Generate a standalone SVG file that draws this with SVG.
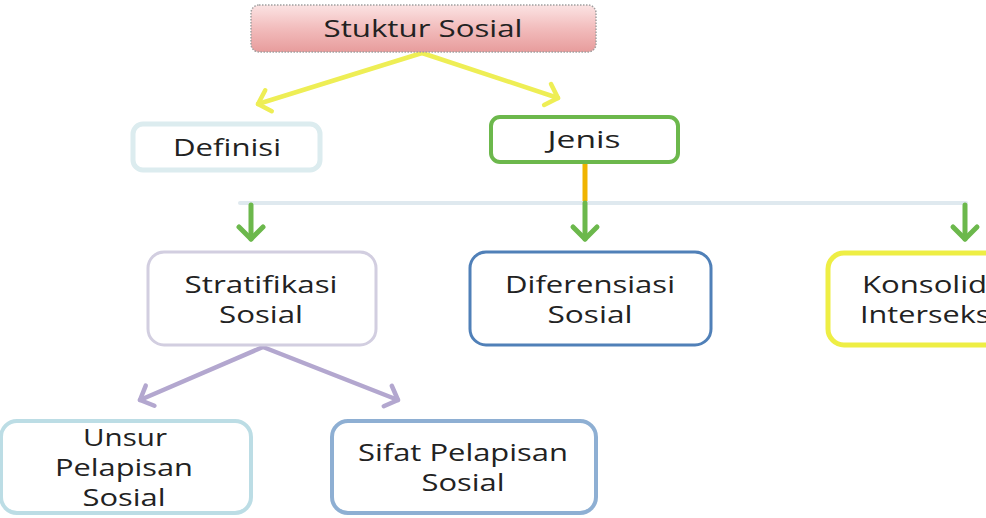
<svg xmlns="http://www.w3.org/2000/svg" width="986" height="518" viewBox="0 0 986 518">
<defs>
<linearGradient id="pink" x1="0" y1="0" x2="0" y2="1">
<stop offset="0" stop-color="#fbe3e3"/>
<stop offset="0.5" stop-color="#f2bcbc"/>
<stop offset="1" stop-color="#e79c9c"/>
</linearGradient>
<marker id="ay" markerUnits="userSpaceOnUse" markerWidth="30" markerHeight="30" viewBox="-15 -15 30 30" refX="0" refY="0" orient="auto">
<path d="M-11,-11 L0,0 L-11,11" fill="none" stroke="#eeee55" stroke-width="4.5" stroke-linecap="round" stroke-linejoin="round"/>
</marker>
<marker id="ap" markerUnits="userSpaceOnUse" markerWidth="30" markerHeight="30" viewBox="-15 -15 30 30" refX="0" refY="0" orient="auto">
<path d="M-11,-11 L0,0 L-11,11" fill="none" stroke="#b3a7cf" stroke-width="4.5" stroke-linecap="round" stroke-linejoin="round"/>
</marker>
<marker id="ag" markerUnits="userSpaceOnUse" markerWidth="34" markerHeight="34" viewBox="-17 -17 34 34" refX="0" refY="0" orient="auto">
<path d="M-12,-12 L0,0 L-12,12" fill="none" stroke="#6cb84c" stroke-width="5" stroke-linecap="round" stroke-linejoin="round"/>
</marker>
</defs>
<style>
.t{font-family:"Open Sans","Liberation Sans",sans-serif;font-size:24px;fill:#222222;text-anchor:middle;font-variant-ligatures:none}
.box{fill:#ffffff}
</style>

<g id="connectors" fill="none" stroke-linecap="round">
<line x1="422" y1="53" x2="258" y2="104" stroke="#eeee55" stroke-width="4.5" marker-end="url(#ay)"/>
<line x1="422" y1="53" x2="558" y2="98" stroke="#eeee55" stroke-width="4.5" marker-end="url(#ay)"/>
<line x1="585" y1="164" x2="585" y2="202" stroke="#f0b400" stroke-width="5" stroke-linecap="butt"/>
<line x1="240" y1="203" x2="966" y2="203" stroke="#dfe9ef" stroke-width="4"/>
<line x1="251" y1="205" x2="251" y2="239" stroke="#6cb84c" stroke-width="5" marker-end="url(#ag)"/>
<line x1="585" y1="203" x2="585" y2="239" stroke="#6cb84c" stroke-width="5" marker-end="url(#ag)"/>
<line x1="965" y1="205" x2="965" y2="239" stroke="#6cb84c" stroke-width="5" marker-end="url(#ag)"/>
<line x1="263" y1="347" x2="140" y2="400" stroke="#b3a7cf" stroke-width="4.5" marker-end="url(#ap)"/>
<line x1="263" y1="347" x2="398" y2="400" stroke="#b3a7cf" stroke-width="4.5" marker-end="url(#ap)"/>
</g>

<g id="stuktur">
<rect x="251" y="5" width="345" height="47" rx="8" fill="url(#pink)" stroke="#a0a0a0" stroke-width="1.5" stroke-dasharray="1.5 1.5"/>
<text class="t" x="423" y="37" font-size="25" textLength="199" lengthAdjust="spacingAndGlyphs">Stuktur Sosial</text>
</g>

<g id="definisi">
<rect class="box" x="133" y="124" width="187" height="46" rx="10" stroke="#dcecef" stroke-width="5"/>
<text class="t" x="227" y="156" textLength="108" lengthAdjust="spacingAndGlyphs">Definisi</text>
</g>

<g id="jenis">
<rect class="box" x="491" y="117" width="187" height="45" rx="9" stroke="#6cb84c" stroke-width="4"/>
<text class="t" x="584" y="148" textLength="73" lengthAdjust="spacingAndGlyphs">Jenis</text>
</g>

<g id="stratifikasi">
<rect class="box" x="148" y="252" width="228" height="93" rx="16" stroke="#d2cee0" stroke-width="3"/>
<text class="t" x="261" y="293" textLength="153" lengthAdjust="spacingAndGlyphs">Stratifikasi</text>
<text class="t" x="261" y="323" textLength="84" lengthAdjust="spacingAndGlyphs">Sosial</text>
</g>

<g id="diferensiasi">
<rect class="box" x="470" y="252" width="241" height="93" rx="16" stroke="#5080b8" stroke-width="3"/>
<text class="t" x="590" y="293" textLength="170" lengthAdjust="spacingAndGlyphs">Diferensiasi</text>
<text class="t" x="590" y="323" textLength="85" lengthAdjust="spacingAndGlyphs">Sosial</text>
</g>

<g id="konsolidasi">
<rect class="box" x="828" y="253" width="240" height="92" rx="16" stroke="#eeee44" stroke-width="5"/>
<text class="t" x="862" y="293" style="text-anchor:start" textLength="165" lengthAdjust="spacingAndGlyphs">Konsolidasi</text>
<text class="t" x="860" y="323" style="text-anchor:start" textLength="138" lengthAdjust="spacingAndGlyphs">Interseksi</text>
</g>

<g id="unsur">
<rect class="box" x="1" y="421" width="250" height="92" rx="16" stroke="#bcdde5" stroke-width="4"/>
<text class="t" x="125" y="446" textLength="84" lengthAdjust="spacingAndGlyphs">Unsur</text>
<text class="t" x="124" y="476" textLength="138" lengthAdjust="spacingAndGlyphs">Pelapisan</text>
<text class="t" x="124" y="506" textLength="83" lengthAdjust="spacingAndGlyphs">Sosial</text>
</g>

<g id="sifat">
<rect class="box" x="332" y="421" width="264" height="92" rx="16" stroke="#8eafd3" stroke-width="4"/>
<text class="t" x="463" y="461" textLength="210" lengthAdjust="spacingAndGlyphs">Sifat Pelapisan</text>
<text class="t" x="463" y="491" textLength="83" lengthAdjust="spacingAndGlyphs">Sosial</text>
</g>
</svg>
